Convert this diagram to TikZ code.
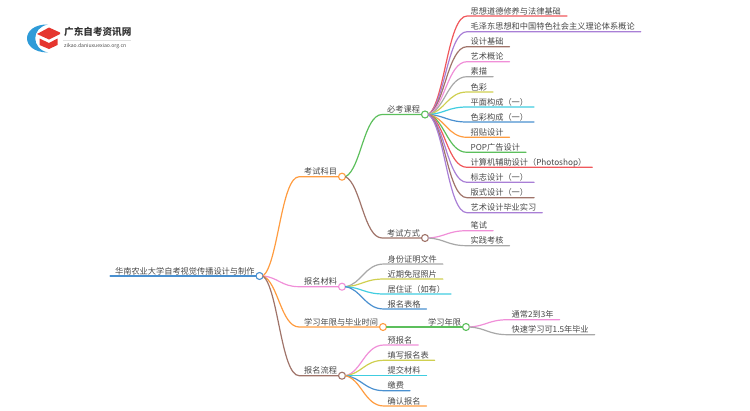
\documentclass[tikz,border=0pt]{standalone}
\usepackage{fontspec}
\setmainfont{Noto Sans CJK SC}
\usetikzlibrary{calc}

\definecolor{lineRed}{HTML}{F0585C}
\definecolor{linePurple}{HTML}{A97FD6}
\definecolor{lineBrown}{HTML}{A0746A}
\definecolor{linePink}{HTML}{F08FD8}
\definecolor{lineGray}{HTML}{A8A8A8}
\definecolor{lineYellow}{HTML}{CFCF50}
\definecolor{lineCyan}{HTML}{40CDE0}
\definecolor{lineBlue}{HTML}{4A90D0}
\definecolor{lineOrange}{HTML}{FF9C40}
\definecolor{lineGreen}{HTML}{5CBF5C}
\definecolor{logoBlue}{HTML}{2F9BD8}
\definecolor{logoRed}{HTML}{E5352E}

\tikzset{
	txt/.style={text=black!72,font=\fontsize{8.2}{8.2}\selectfont,outer sep=0pt,inner ysep=1pt,text height=7.2pt,text depth=1pt},
	leaf/.style={txt,anchor=south west,inner xsep=3.7pt,execute at end node={\hspace{2.3pt}}},
	mid/.style={txt,anchor=south east,inner xsep=5pt},
	dot/.style={circle,draw=#1,fill=white,line width=1.1pt,minimum size=7pt,inner sep=0pt,outer sep=0pt},
	conn/.style={line width=1.2pt,line cap=round}
}

% curved connector, then the line under the target text
\newcommand{\leafline}[3]{
	\draw[conn,#1] (#2.east) let \p1=(#2.east), \p2=(#3.south west) in
		.. controls ({\x1+0.42*(\x2-\x1)},{\y1+0.12*(\y2-\y1)}) and ({\x1+0.5*(\x2-\x1)},\y2) .. (\p2) -- (#3.south east);
}
\newcommand{\midline}[4]{
	\draw[conn,#1] (#2.east) let \p1=(#2.east), \p2=(#3.south west) in
		.. controls ({\x1+0.42*(\x2-\x1)},{\y1+0.12*(\y2-\y1)}) and ({\x1+0.5*(\x2-\x1)},\y2) .. (\p2) -- (#4);
}

\begin{document}
\begin{tikzpicture}[x=1pt,y=-1pt]
	\useasboundingbox (0,0) rectangle (750,410);

	% logo
	\fill[logoBlue] (48,24.5) .. controls (20,24) and (20,52.5) .. (48,52.5) .. controls (31,49) and (31,27.5) .. cycle;
	\fill[logoRed] (37,34) -- (49,27.5) -- (60,32.5) -- (60,34) -- (49,39.5) -- cycle;
	\fill[logoRed] (39.5,38.5) -- (49,43) -- (57.5,38.5) -- (57.5,45) -- (49,49) -- (39.5,45) -- cycle;
	\node[anchor=west,inner sep=0pt,text=black!80,font=\fontsize{9.6}{9.6}\selectfont\bfseries] (logoname) at (64,31.5) {广东自考资讯网};
	\node[anchor=west,inner sep=0pt,text=black!70,font=\fontsize{5.1}{5.1}\selectfont,text height=4pt] (logourl) at (64,46.5) {zikao.daniuxuexiao.org.cn};
	\coordinate (rulestart) at (63,40.5);
	\coordinate (ruleend) at (131,40.5);
	\draw[black!12,line width=.5pt] (rulestart) -- (ruleend);

	% dots
	\node[dot=lineBlue] (rootdot) at (259.5,276) {};
	\node[dot=lineOrange] (kemudot) at (342,176.7) {};
	\node[dot=linePink] (cailiaodot) at (342,286.7) {};
	\node[dot=lineOrange] (nianxiandot) at (383,327) {};
	\node[dot=lineBrown] (liuchengdot) at (342,375.7) {};
	\node[dot=lineGreen] (bikaodot) at (425,114.5) {};
	\node[dot=lineBrown] (fangshidot) at (425,238) {};
	\node[dot=lineGreen] (xuezhidot) at (466,327) {};

	% inner nodes
	\node[mid] (root) at (rootdot.center) {华南农业大学自考视觉传播设计与制作};
	\node[mid] (kemu) at (kemudot.center) {考试科目};
	\node[mid] (cailiao) at (cailiaodot.center) {报名材料};
	\node[mid] (nianxian) at (nianxiandot.center) {学习年限与毕业时间};
	\node[mid] (liucheng) at (liuchengdot.center) {报名流程};
	\node[mid] (bikao) at (bikaodot.center) {必考课程};
	\node[mid] (fangshi) at (fangshidot.center) {考试方式};
	\node[mid] (xuezhi) at (xuezhidot.center) {学习年限};

	% leaves
	\node[leaf] (sixiang) at (467,16) {思想道德修养与法律基础};
	\node[leaf] (maozedong) at (467,31.7) {毛泽东思想和中国特色社会主义理论体系概论};
	\node[leaf] (sheji) at (467,46.7) {设计基础};
	\node[leaf] (yishu) at (467,61.7) {艺术概论};
	\node[leaf] (sumiao) at (467,76.7) {素描};
	\node[leaf] (secai) at (467,92) {色彩};
	\node[leaf] (pingmian) at (467,107) {平面构成（一）};
	\node[leaf] (segou) at (467,122) {色彩构成（一）};
	\node[leaf] (zhaotie) at (467,137.3) {招贴设计};
	\node[leaf] (pop) at (467,152.3) {POP广告设计};
	\node[leaf] (jisuanji) at (467,167.3) {计算机辅助设计（Photoshop）};
	\node[leaf] (biaozhi) at (467,182.3) {标志设计（一）};
	\node[leaf] (banshi) at (467,197.7) {版式设计（一）};
	\node[leaf] (shixi) at (467,212.7) {艺术设计毕业实习};
	\node[leaf] (bishi) at (467,230.7) {笔试};
	\node[leaf] (shijian) at (467,245.7) {实践考核};
	\node[leaf] (shenfen) at (384,264) {身份证明文件};
	\node[leaf] (zhaopian) at (384,279) {近期免冠照片};
	\node[leaf] (juzhu) at (384,294) {居住证（如有）};
	\node[leaf] (biaoge) at (384,309) {报名表格};
	\node[leaf] (yubao) at (384,345) {预报名};
	\node[leaf] (tianxie) at (384,360.3) {填写报名表};
	\node[leaf] (tijiao) at (384,375.7) {提交材料};
	\node[leaf] (jiaofei) at (384,390.7) {缴费};
	\node[leaf] (queren) at (384,406) {确认报名};
	\node[leaf] (tongchang) at (508,319.7) {通常2到3年};
	\node[leaf] (kuaisu) at (508,334.7) {快速学习可1.5年毕业};

	% connectors
	\draw[conn,lineBlue] (root.south west) -- (rootdot);
	\midline{lineOrange}{rootdot}{kemu}{kemudot}
	\midline{linePink}{rootdot}{cailiao}{cailiaodot}
	\midline{lineOrange}{rootdot}{nianxian}{nianxiandot}
	\midline{lineBrown}{rootdot}{liucheng}{liuchengdot}
	\midline{lineGreen}{kemudot}{bikao}{bikaodot}
	\midline{lineBrown}{kemudot}{fangshi}{fangshidot}
	\draw[conn,lineGreen] (nianxiandot) -- (xuezhidot);

	\leafline{lineRed}{bikaodot}{sixiang}
	\leafline{linePurple}{bikaodot}{maozedong}
	\leafline{lineBrown}{bikaodot}{sheji}
	\leafline{linePink}{bikaodot}{yishu}
	\leafline{lineGray}{bikaodot}{sumiao}
	\leafline{lineYellow}{bikaodot}{secai}
	\leafline{lineCyan}{bikaodot}{pingmian}
	\leafline{lineBlue}{bikaodot}{segou}
	\leafline{lineOrange}{bikaodot}{zhaotie}
	\leafline{lineGreen}{bikaodot}{pop}
	\leafline{lineRed}{bikaodot}{jisuanji}
	\leafline{linePurple}{bikaodot}{biaozhi}
	\leafline{lineBrown}{bikaodot}{banshi}
	\leafline{linePurple}{bikaodot}{shixi}
	\leafline{linePink}{fangshidot}{bishi}
	\leafline{lineGray}{fangshidot}{shijian}
	\leafline{lineGray}{cailiaodot}{shenfen}
	\leafline{lineYellow}{cailiaodot}{zhaopian}
	\leafline{lineCyan}{cailiaodot}{juzhu}
	\leafline{lineBlue}{cailiaodot}{biaoge}
	\leafline{linePink}{liuchengdot}{yubao}
	\leafline{lineYellow}{liuchengdot}{tianxie}
	\leafline{lineCyan}{liuchengdot}{tijiao}
	\leafline{lineBlue}{liuchengdot}{jiaofei}
	\leafline{lineOrange}{liuchengdot}{queren}
	\leafline{linePink}{xuezhidot}{tongchang}
	\leafline{lineGray}{xuezhidot}{kuaisu}
\end{tikzpicture}
\end{document}
